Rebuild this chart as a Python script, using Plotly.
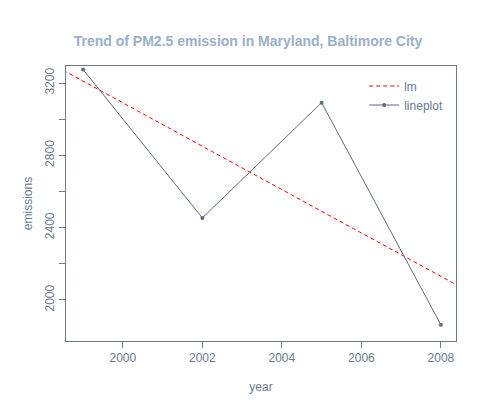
import numpy as np
import plotly.graph_objects as go

years = [1999, 2002, 2005, 2008]
emissions = [3274.18, 2453.916, 3091.354, 1862.282]

y_ticks = [2000, 2200, 2400, 2600, 2800, 3000, 3200]
y_labels = ['2000', '', '2400', '', '2800', '', '3200']
x_ticks = [2000, 2002, 2004, 2006, 2008]

slope, intercept = np.polyfit(years, emissions, 1)
x_fit = np.array([1998.5, 2008.5])
y_fit = slope * x_fit + intercept

axis_col = '#6b7a8f'
text_col = '#6b7a8f'

fig = go.Figure()
fig.add_trace(go.Scatter(x=x_fit, y=y_fit, mode='lines', name='lm',
                         line=dict(color='red', dash='4px,3px', width=1)))
fig.add_trace(go.Scatter(x=years, y=emissions, mode='lines+markers', name='lineplot',
                         line=dict(color='#5c6b80', width=1),
                         marker=dict(size=4, color='#5c6b80')))

fig.update_layout(
    width=480, height=400,
    margin=dict(l=58, r=32, t=58, b=67, autoexpand=False),
    plot_bgcolor='white', paper_bgcolor='white',
    font=dict(family='Liberation Sans, Arial', size=12, color=text_col),
    title=dict(text='<b>Trend of PM2.5 emission in Maryland, Baltimore City</b>',
               x=0.5, xanchor='center', y=0.93, font=dict(size=14, color='#9aafc8')),
    legend=dict(x=0.98, y=0.98, xanchor='right', yanchor='top',
                bgcolor='rgba(0,0,0,0)', font=dict(size=12, color=text_col),
                itemwidth=30),
)
fig.update_xaxes(range=[1998.57, 2008.38], tickvals=x_ticks, ticks='outside',
                 ticklen=6, tickcolor=axis_col, showline=True, linecolor=axis_col,
                 mirror=True, showgrid=False, zeroline=False, automargin=False,
                 title=dict(text='year', standoff=18, font=dict(size=12)))
fig.update_yaxes(range=[1773, 3294], tickvals=y_ticks, ticktext=y_labels,
                 tickangle=-90, ticks='outside', ticklen=6, tickcolor=axis_col,
                 showline=True, linecolor=axis_col, mirror=True, showgrid=False,
                 zeroline=False, automargin=False,
                 title=dict(text='emissions', standoff=8, font=dict(size=12)))

fig.write_html("out.html")
